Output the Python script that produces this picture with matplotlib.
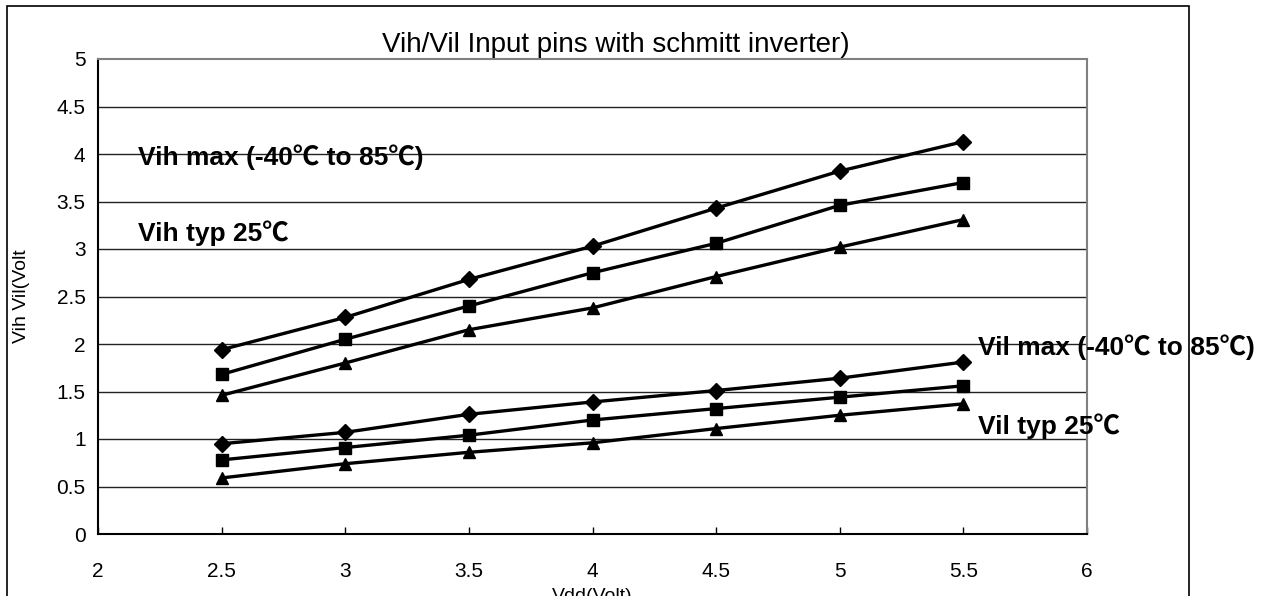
import matplotlib
matplotlib.use("Agg")
import matplotlib.pyplot as plt
from matplotlib.patches import Rectangle

vdd = [2.5, 3.0, 3.5, 4.0, 4.5, 5.0, 5.5]
vih_max = [1.94, 2.28, 2.68, 3.03, 3.43, 3.82, 4.13]
vih_typ = [1.68, 2.05, 2.40, 2.75, 3.06, 3.46, 3.70]
vih_min = [1.46, 1.80, 2.15, 2.38, 2.71, 3.02, 3.31]
vil_max = [0.95, 1.07, 1.26, 1.39, 1.51, 1.64, 1.81]
vil_typ = [0.78, 0.91, 1.04, 1.20, 1.32, 1.44, 1.56]
vil_min = [0.59, 0.74, 0.86, 0.96, 1.11, 1.25, 1.37]

x_ticks = [2, 2.5, 3, 3.5, 4, 4.5, 5, 5.5, 6]
x_tick_labels = ["2", "2.5", "3", "3.5", "4", "4.5", "5", "5.5", "6"]
y_ticks = [0, 0.5, 1, 1.5, 2, 2.5, 3, 3.5, 4, 4.5, 5]
y_tick_labels = ["0", "0.5", "1", "1.5", "2", "2.5", "3", "3.5", "4", "4.5", "5"]

title = "Vih/Vil Input pins with schmitt inverter)"
xlabel = "Vdd(Volt)"
ylabel = "Vih Vil(Volt"
annotations = [
    ("Vih max (-40\u2103 to 85\u2103)", 2.16, 3.97),
    ("Vih typ 25\u2103", 2.16, 3.17),
    ("Vil max (-40\u2103 to 85\u2103)", 5.56, 1.97),
    ("Vil typ 25\u2103", 5.56, 1.13),
]

FAM = ["Liberation Sans", "Noto Sans CJK JP", "DejaVu Sans"]
plt.rcParams["font.family"] = FAM

fig = plt.figure(figsize=(12.72, 5.96), dpi=100)
fig.patches.append(Rectangle((7 / 1272, -0.1), (1189 - 7) / 1272, (596 - 6) / 596 + 0.1,
                             transform=fig.transFigure, fill=False, edgecolor="black",
                             linewidth=1.2, zorder=0))

ax = fig.add_axes([98 / 1272, 62 / 596, (1087 - 98) / 1272, (534 - 59) / 596])
ax.set_xlim(2, 6)
ax.set_ylim(0, 5)

for yv in y_ticks[1:-1]:
    ax.axhline(yv, color="#222222", linewidth=1.0, zorder=1)

series = [
    (vih_max, "D", 8),
    (vih_typ, "s", 8),
    (vih_min, "^", 9),
    (vil_max, "D", 8),
    (vil_typ, "s", 8),
    (vil_min, "^", 9),
]
for ys, m, ms in series:
    ax.plot(vdd, ys, color="black", linewidth=2.4, marker=m, markersize=ms,
            markerfacecolor="black", markeredgecolor="black", zorder=3, clip_on=False)

ax.set_xticks(x_ticks)
ax.set_xticklabels(x_tick_labels, fontsize=15)
ax.set_yticks(y_ticks)
ax.set_yticklabels(y_tick_labels, fontsize=15)
ax.tick_params(axis="x", direction="in", length=5, width=1, pad=20, colors="black")
ax.tick_params(axis="y", length=0, pad=9)

ax.spines["left"].set_color("black")
ax.spines["bottom"].set_color("black")
ax.spines["left"].set_linewidth(1.5)
ax.spines["bottom"].set_linewidth(1.5)
ax.spines["top"].set_color("#808080")
ax.spines["right"].set_color("#808080")
ax.spines["top"].set_linewidth(1.5)
ax.spines["right"].set_linewidth(1.5)

ax.set_xlabel(xlabel, fontsize=14, labelpad=0)
ax.xaxis.set_label_coords(0.5, -0.113)
ax.set_ylabel(ylabel, fontsize=14)
ax.yaxis.set_label_coords(-0.069, 0.5)

fig.text(616 / 1272, 1 - 45 / 596, title, fontsize=20, ha="center", va="center")

for txt, xx, yy in annotations:
    ax.text(xx, yy, txt, fontsize=19, fontweight="bold", ha="left", va="center",
            zorder=4, clip_on=False)

fig.savefig("out.png", dpi=100)
